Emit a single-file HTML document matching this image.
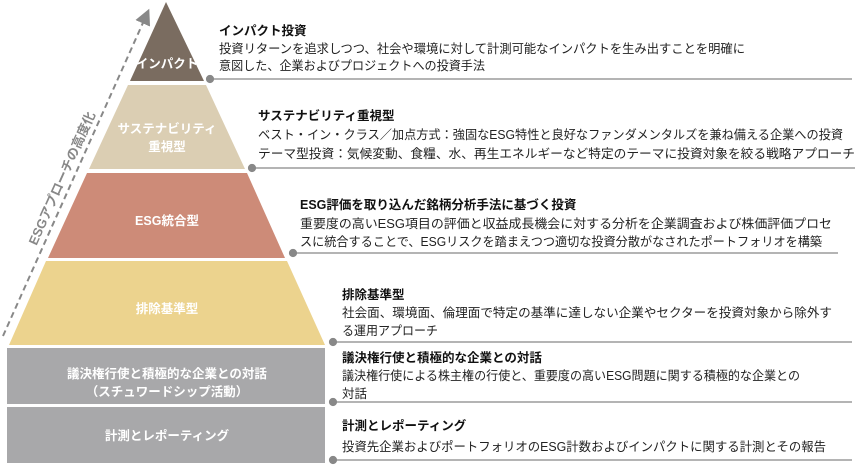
<!DOCTYPE html>
<html><head><meta charset="utf-8"><style>
body{margin:0;background:#fff;}
svg{display:block;font-family:"Liberation Sans","Noto Sans CJK JP",sans-serif;}
.t{font-size:12.5px;font-weight:bold;fill:#111;}
.b{font-size:12.5px;fill:#222;}
.w{font-size:12.5px;fill:#fff;font-weight:bold;}
</style></head><body>
<svg width="860" height="470" viewBox="0 0 860 470">
<defs><marker id="ah" markerWidth="8" markerHeight="8" refX="4" refY="4" orient="auto"><path d="M0,0 L8,4 L0,8 z" fill="#888"/></marker></defs>
<line x1="3" y1="336" x2="146" y2="16" stroke="#888" stroke-width="2" stroke-dasharray="6,4" marker-end="url(#ah)"/>
<text transform="translate(66,180) rotate(-65.9)" font-size="13" font-weight="bold" fill="#888" text-anchor="middle">ESGアプローチの高度化</text>
<polygon points="166,2 204,81 130,81" fill="#7a6c60"/>
<polygon points="128,85 206,85 245,169 89,169" fill="#dbceb3"/>
<polygon points="87,173 247,173 285,258 48,258" fill="#cd8b78"/>
<polygon points="46,261 287,261 325,345 9,345" fill="#ecd38e"/>
<rect x="7" y="348" width="318" height="56" fill="#a8a8aa"/>
<rect x="7" y="407" width="318" height="56" fill="#a8a8aa"/>
<text class="w" x="167" y="68" text-anchor="middle">インパクト</text>
<text class="w" x="167" y="133" text-anchor="middle">サステナビリティ</text>
<text class="w" x="167" y="151" text-anchor="middle">重視型</text>
<text class="w" x="167" y="225" text-anchor="middle">ESG統合型</text>
<text class="w" x="167" y="313" text-anchor="middle">排除基準型</text>
<text class="w" x="167" y="378" text-anchor="middle">議決権行使と積極的な企業との対話</text>
<text class="w" x="167" y="396" text-anchor="middle">（スチュワードシップ活動）</text>
<text class="w" x="167" y="440" text-anchor="middle">計測とレポーティング</text>
<g stroke="#888" stroke-width="1.2" fill="#888">
<line x1="210" y1="79" x2="852" y2="79"/><circle cx="210" cy="79" r="3.5"/>
<line x1="252" y1="168" x2="855" y2="168"/><circle cx="252" cy="168" r="3.5"/>
<line x1="293" y1="253" x2="838" y2="253"/><circle cx="293" cy="253" r="3.5"/>
<line x1="333" y1="342" x2="852" y2="342"/><circle cx="333" cy="342" r="3.5"/>
<line x1="333" y1="402" x2="852" y2="402"/><circle cx="333" cy="402" r="3.5"/>
<line x1="333" y1="460" x2="852" y2="460"/><circle cx="333" cy="460" r="3.5"/>
</g>
<text class="t" x="219" y="35">インパクト投資</text>
<text class="b" x="219" y="53" textLength="526" lengthAdjust="spacingAndGlyphs">投資リターンを追求しつつ、社会や環境に対して計測可能なインパクトを生み出すことを明確に</text>
<text class="b" x="219" y="70" textLength="266" lengthAdjust="spacingAndGlyphs">意図した、企業およびプロジェクトへの投資手法</text>
<text class="t" x="258" y="120">サステナビリティ重視型</text>
<text class="b" x="258" y="139" textLength="585" lengthAdjust="spacingAndGlyphs">ベスト・イン・クラス／加点方式：強固なESG特性と良好なファンダメンタルズを兼ね備える企業への投資</text>
<text class="b" x="258" y="158" textLength="597" lengthAdjust="spacingAndGlyphs">テーマ型投資：気候変動、食糧、水、再生エネルギーなど特定のテーマに投資対象を絞る戦略アプローチ</text>
<text class="t" x="300" y="209">ESG評価を取り込んだ銘柄分析手法に基づく投資</text>
<text class="b" x="300" y="228" textLength="532" lengthAdjust="spacingAndGlyphs">重要度の高いESG項目の評価と収益成長機会に対する分析を企業調査および株価評価プロセ</text>
<text class="b" x="300" y="246" textLength="522" lengthAdjust="spacingAndGlyphs">スに統合することで、ESGリスクを踏まえつつ適切な投資分散がなされたポートフォリオを構築</text>
<text class="t" x="342" y="299">排除基準型</text>
<text class="b" x="342" y="317" textLength="490" lengthAdjust="spacingAndGlyphs">社会面、環境面、倫理面で特定の基準に達しない企業やセクターを投資対象から除外す</text>
<text class="b" x="342" y="335" textLength="96" lengthAdjust="spacingAndGlyphs">る運用アプローチ</text>
<text class="t" x="342" y="362">議決権行使と積極的な企業との対話</text>
<text class="b" x="342" y="380" textLength="458" lengthAdjust="spacingAndGlyphs">議決権行使による株主権の行使と、重要度の高いESG問題に関する積極的な企業との</text>
<text class="b" x="342" y="398">対話</text>
<text class="t" x="342" y="430">計測とレポーティング</text>
<text class="b" x="342" y="451" textLength="484" lengthAdjust="spacingAndGlyphs">投資先企業およびポートフォリオのESG計数およびインパクトに関する計測とその報告</text>
</svg>
</body></html>
